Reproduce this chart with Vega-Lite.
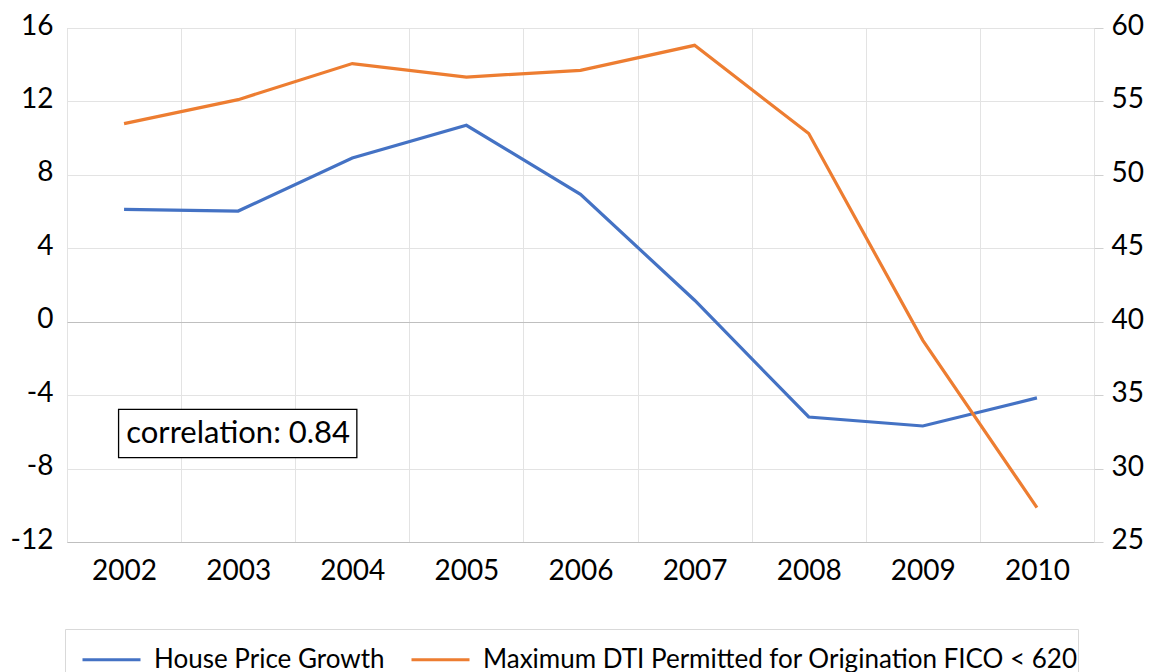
{
  "$schema": "https://vega.github.io/schema/vega-lite/v6.json",
  "width": 1027,
  "height": 514,
  "autosize": "none",
  "padding": {"left": 67, "top": 28, "right": 56, "bottom": 130},
  "background": "white",
  "config": {
    "font": "Lato",
    "view": {"stroke": "#d0d0d0", "strokeWidth": 1},
    "axis": {"labelFont": "Lato", "labelColor": "#000000", "labelFontSize": 28, "title": null}
  },
  "datasets": {
    "main": [
      {"year": "2002", "series": "House Price Growth", "value": 6.12},
      {"year": "2003", "series": "House Price Growth", "value": 6.03},
      {"year": "2004", "series": "House Price Growth", "value": 8.92},
      {"year": "2005", "series": "House Price Growth", "value": 10.70},
      {"year": "2006", "series": "House Price Growth", "value": 6.94},
      {"year": "2007", "series": "House Price Growth", "value": 1.17},
      {"year": "2008", "series": "House Price Growth", "value": -5.19},
      {"year": "2009", "series": "House Price Growth", "value": -5.68},
      {"year": "2010", "series": "House Price Growth", "value": -4.15},
      {"year": "2002", "series": "Maximum DTI Permitted for Origination FICO < 620", "value": 53.49},
      {"year": "2003", "series": "Maximum DTI Permitted for Origination FICO < 620", "value": 55.12},
      {"year": "2004", "series": "Maximum DTI Permitted for Origination FICO < 620", "value": 57.58},
      {"year": "2005", "series": "Maximum DTI Permitted for Origination FICO < 620", "value": 56.66},
      {"year": "2006", "series": "Maximum DTI Permitted for Origination FICO < 620", "value": 57.12},
      {"year": "2007", "series": "Maximum DTI Permitted for Origination FICO < 620", "value": 58.82},
      {"year": "2008", "series": "Maximum DTI Permitted for Origination FICO < 620", "value": 52.81},
      {"year": "2009", "series": "Maximum DTI Permitted for Origination FICO < 620", "value": 38.73},
      {"year": "2010", "series": "Maximum DTI Permitted for Origination FICO < 620", "value": 27.34}
    ]
  },
  "layer": [
    {
      "layer": [
        {
          "data": {"name": "main"},
          "transform": [{"filter": "datum.series === 'House Price Growth'"}],
          "mark": {"type": "line", "strokeWidth": 3.2},
          "encoding": {
            "x": {
              "field": "year", "type": "ordinal",
              "scale": {"type": "band", "paddingInner": 0, "paddingOuter": 0},
              "axis": {"orient": "bottom", "grid": true, "tickBand": "extent", "gridColor": "#e3e3e3", "domain": true, "domainColor": "#bfbfbf", "domainWidth": 1, "ticks": false, "tickSize": 0, "labelPadding": 15, "labelAngle": 0, "title": null}
            },
            "y": {
              "field": "value", "type": "quantitative",
              "scale": {"domain": [-12, 16], "nice": false, "zero": false},
              "axis": {"orient": "left", "values": [-12, -8, -4, 0, 4, 8, 12, 16], "grid": true,
                "gridColor": {"condition": {"test": "datum.value === 0", "value": "#bfbfbf"}, "value": "#e3e3e3"},
                "domain": false, "ticks": false, "tickSize": 0, "labelPadding": 14, "labelOffset": -2, "labelExpr": "datum.value + ''", "title": null}
            },
            "color": {
              "field": "series", "type": "nominal",
              "scale": {"domain": ["House Price Growth", "Maximum DTI Permitted for Origination FICO < 620"], "range": ["#4472c4", "#ed7d31"]},
              "legend": {"orient": "none", "legendX": -2, "legendY": 601, "direction": "horizontal", "title": null, "padding": 0,
                "strokeColor": "#d9d9d9", "fillColor": "white", "symbolType": "stroke", "symbolSize": 3364, "symbolStrokeWidth": 3,
                "symbolOffset": 16, "labelOffset": 12, "labelFontSize": 26, "labelFont": "Lato", "labelColor": "#000000", "labelLimit": 1000, "columnPadding": 9,
                "labelExpr": "datum.value === 'House Price Growth' ? datum.label : datum.label + '\u00a0\u00a0\u00a0\u00a0'"}
            }
          }
        },
        {
          "data": {"values": [{"label": "correlation: 0.84"}]},
          "mark": {"type": "rect", "fill": "white", "stroke": "#000000", "strokeWidth": 1.3},
          "encoding": {
            "x": {"datum": "2002", "type": "ordinal", "bandPosition": 0.452, "title": null},
            "x2": {"datum": "2004", "bandPosition": 0.54},
            "y": {"datum": -4.78, "type": "quantitative", "title": null},
            "y2": {"datum": -7.40}
          }
        },
        {
          "data": {"values": [{"label": "correlation: 0.84"}]},
          "mark": {"type": "text", "align": "center", "baseline": "middle", "font": "Lato", "fontSize": 31, "color": "#000000"},
          "encoding": {
            "x": {"datum": "2003", "type": "ordinal", "title": null},
            "y": {"datum": -6.09, "type": "quantitative", "title": null},
            "text": {"field": "label"}
          }
        }
      ]
    },
    {
      "data": {"name": "main"},
      "transform": [{"filter": "datum.series !== 'House Price Growth'"}],
      "mark": {"type": "line", "strokeWidth": 3.2},
      "encoding": {
        "x": {"field": "year", "type": "ordinal", "title": null},
        "y": {
          "field": "value", "type": "quantitative",
          "scale": {"domain": [25, 60], "nice": false, "zero": false},
          "axis": {"orient": "right", "values": [25, 30, 35, 40, 45, 50, 55, 60], "grid": false, "domain": false, "ticks": true, "tickSize": 9, "tickColor": "#d0d0d0", "tickWidth": 1, "labelPadding": 8, "labelOffset": -1.5, "title": null}
        },
        "color": {
          "field": "series", "type": "nominal",
          "scale": {"domain": ["House Price Growth", "Maximum DTI Permitted for Origination FICO < 620"], "range": ["#4472c4", "#ed7d31"]}
        }
      }
    }
  ],
  "resolve": {"scale": {"y": "independent"}}
}
